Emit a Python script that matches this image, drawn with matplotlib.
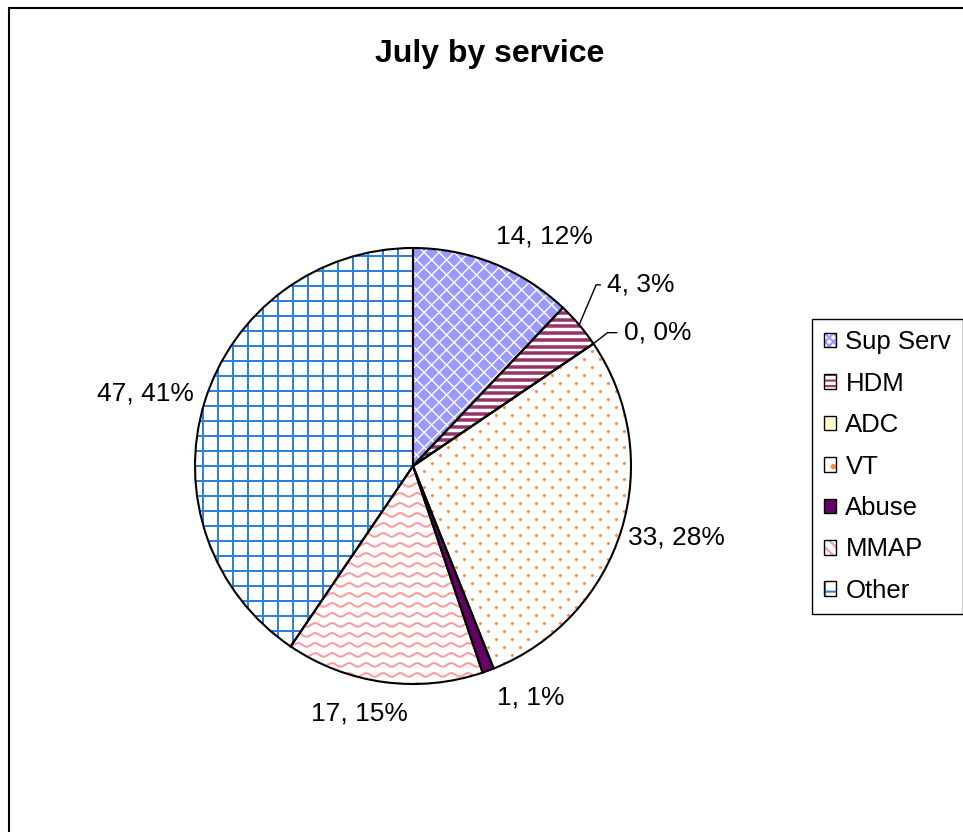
import numpy as np
import matplotlib.pyplot as plt
from matplotlib.patches import Patch, Rectangle
from matplotlib.collections import LineCollection, PolyCollection

plt.rcParams['font.family'] = ['Liberation Sans', 'DejaVu Sans']
plt.rcParams['hatch.linewidth'] = 1.5

# data
services = ['Sup Serv', 'HDM', 'ADC', 'VT', 'Abuse', 'MMAP', 'Other']
counts = [14, 4, 0, 33, 1, 17, 47]

total = sum(counts)
percents = [int(round(100 * c / total)) for c in counts]

# styling per slice
face = ['white', 'white', '#FFFFCC', 'white', '#660066', 'white', 'white']
pat_color = ['#9999FF', '#993366', None, '#FF8A3D', None, '#FF9999', '#2F80D8']
leg_hatch = ['xxxx', '---', None, '.', None, '\\\\\\', '+']
# label offsets (pixels) from the rim point at each slice's mid angle
label_off = [(51, 27), (62, 40), (64, 11), (55, -8), (43, -27), (-24, -31), (-59, 9)]
leader_angle = [None, 67, 38, None, None, None, None]

fig = plt.figure(figsize=(9.63, 8.32), dpi=100)
fig.add_artist(Rectangle((9 / 963, -0.1), 2, 1 - 8 / 832 + 0.1, transform=fig.transFigure,
                         fill=False, lw=1.5, ec='black'))

ax = fig.add_axes([195 / 963, (832 - 684) / 832, 436 / 963, 436 / 832])
px = 1 / 218.0  # data units per pixel

wedges, _ = ax.pie(counts, startangle=90, counterclock=False, colors=face,
                   wedgeprops=dict(linewidth=0, zorder=1))


def diamonds(w, color, step=15, diag=13):
    polys = []
    ys = np.arange(-1.05, 1.05, step / 2 * px)
    for j, y in enumerate(ys):
        off = (j % 2) * step / 2 * px
        for x in np.arange(-1.05 + off, 1.05, step * px):
            d = diag / 2 * px
            polys.append([(x - d, y), (x, y + d), (x + d, y), (x, y - d)])
    pc = PolyCollection(polys, facecolors=color, edgecolors='none', zorder=2)
    ax.add_collection(pc)
    pc.set_clip_path(w)


def stripes(w, color, period=6.7, thick=3.5):
    segs = [[(-1.05, y), (1.05, y)] for y in np.arange(-1.05, 1.05, period * px)]
    lc = LineCollection(segs, colors=color, linewidths=thick * 0.72, zorder=2)
    ax.add_collection(lc)
    lc.set_clip_path(w)


def dots(w, color, sx=16, sy=8, size=3):
    xs, ys = [], []
    for j, y in enumerate(np.arange(-1.05, 1.05, sy * px)):
        off = (j % 2) * sx / 2 * px
        for x in np.arange(-1.05 + off, 1.05, sx * px):
            xs.append(x)
            ys.append(y)
    sc = ax.scatter(xs, ys, s=(size * 0.72) ** 2, c=color, linewidths=0, zorder=2)
    sc.set_clip_path(w)


def waves(w, color, period=17, spacing=10, amp=1.8, lw=2):
    x = np.linspace(-1.05, 1.05, 600)
    segs = []
    for y0 in np.arange(-1.05, 1.05, spacing * px):
        y = y0 + amp * px * np.sin(2 * np.pi * x / (period * px))
        segs.append(np.column_stack([x, y]))
    lc = LineCollection(segs, colors=color, linewidths=lw * 0.72, zorder=2)
    ax.add_collection(lc)
    lc.set_clip_path(w)


def grid(w, color, step=15, lw=2):
    vals = np.arange(0, 1.05, step * px)
    vals = np.concatenate([-vals[:0:-1], vals])
    segs = [[(v, -1.05), (v, 1.05)] for v in vals] + [[(-1.05, v), (1.05, v)] for v in vals]
    lc = LineCollection(segs, colors=color, linewidths=lw * 0.72, zorder=2)
    ax.add_collection(lc)
    lc.set_clip_path(w)


painters = {'Sup Serv': diamonds, 'HDM': stripes, 'VT': dots, 'MMAP': waves, 'Other': grid}
for w, name, col in zip(wedges, services, pat_color):
    if name in painters:
        painters[name](w, col)

# black outlines on top
ax.pie(counts, startangle=90, counterclock=False, colors=['none'] * len(counts),
       wedgeprops=dict(edgecolor='black', linewidth=1.5, zorder=3))

for w, c, p, off, la in zip(wedges, counts, percents, label_off, leader_angle):
    mid = np.deg2rad((w.theta1 + w.theta2) / 2)
    xy = (np.cos(mid), np.sin(mid))
    lab = f'{c}, {p}%'
    kw = dict(xy=xy, xytext=(off[0] * 0.72, off[1] * 0.72), textcoords='offset points',
              ha='center', va='center', fontsize=19, zorder=4)
    if la is not None:
        kw['arrowprops'] = dict(arrowstyle='-', color='black', lw=1, shrinkA=3, shrinkB=0,
                                relpos=(0, 0.5),
                                connectionstyle='angle,angleA=0,angleB=%d,rad=0' % la)
    ax.annotate(lab, **kw)

ax.set_xlim(-1, 1)
ax.set_ylim(-1, 1)
ax.set_aspect('equal')
ax.axis('off')

fig.text(490 / 963, 1 - 54 / 832, 'July by service', ha='center', va='center',
         fontsize=23, fontweight='bold')

handles = []
for f, col, h in zip(face, pat_color, leg_hatch):
    base = Patch(facecolor=f, edgecolor=col if col else 'none', hatch=h, lw=0)
    frame = Patch(fill=False, edgecolor='black', lw=1)
    handles.append((base, frame))

leg = fig.legend(handles, services, loc='center left', bbox_to_anchor=(812 / 963, 1 - 466.5 / 832),
                 fontsize=18.5, frameon=True, fancybox=False, edgecolor='black', framealpha=1,
                 handlelength=0.5, handleheight=0.5, handletextpad=0.35, labelspacing=0.68,
                 borderpad=0.45, borderaxespad=0)
leg.get_frame().set_linewidth(1)

fig.savefig('out.png', dpi=100)
